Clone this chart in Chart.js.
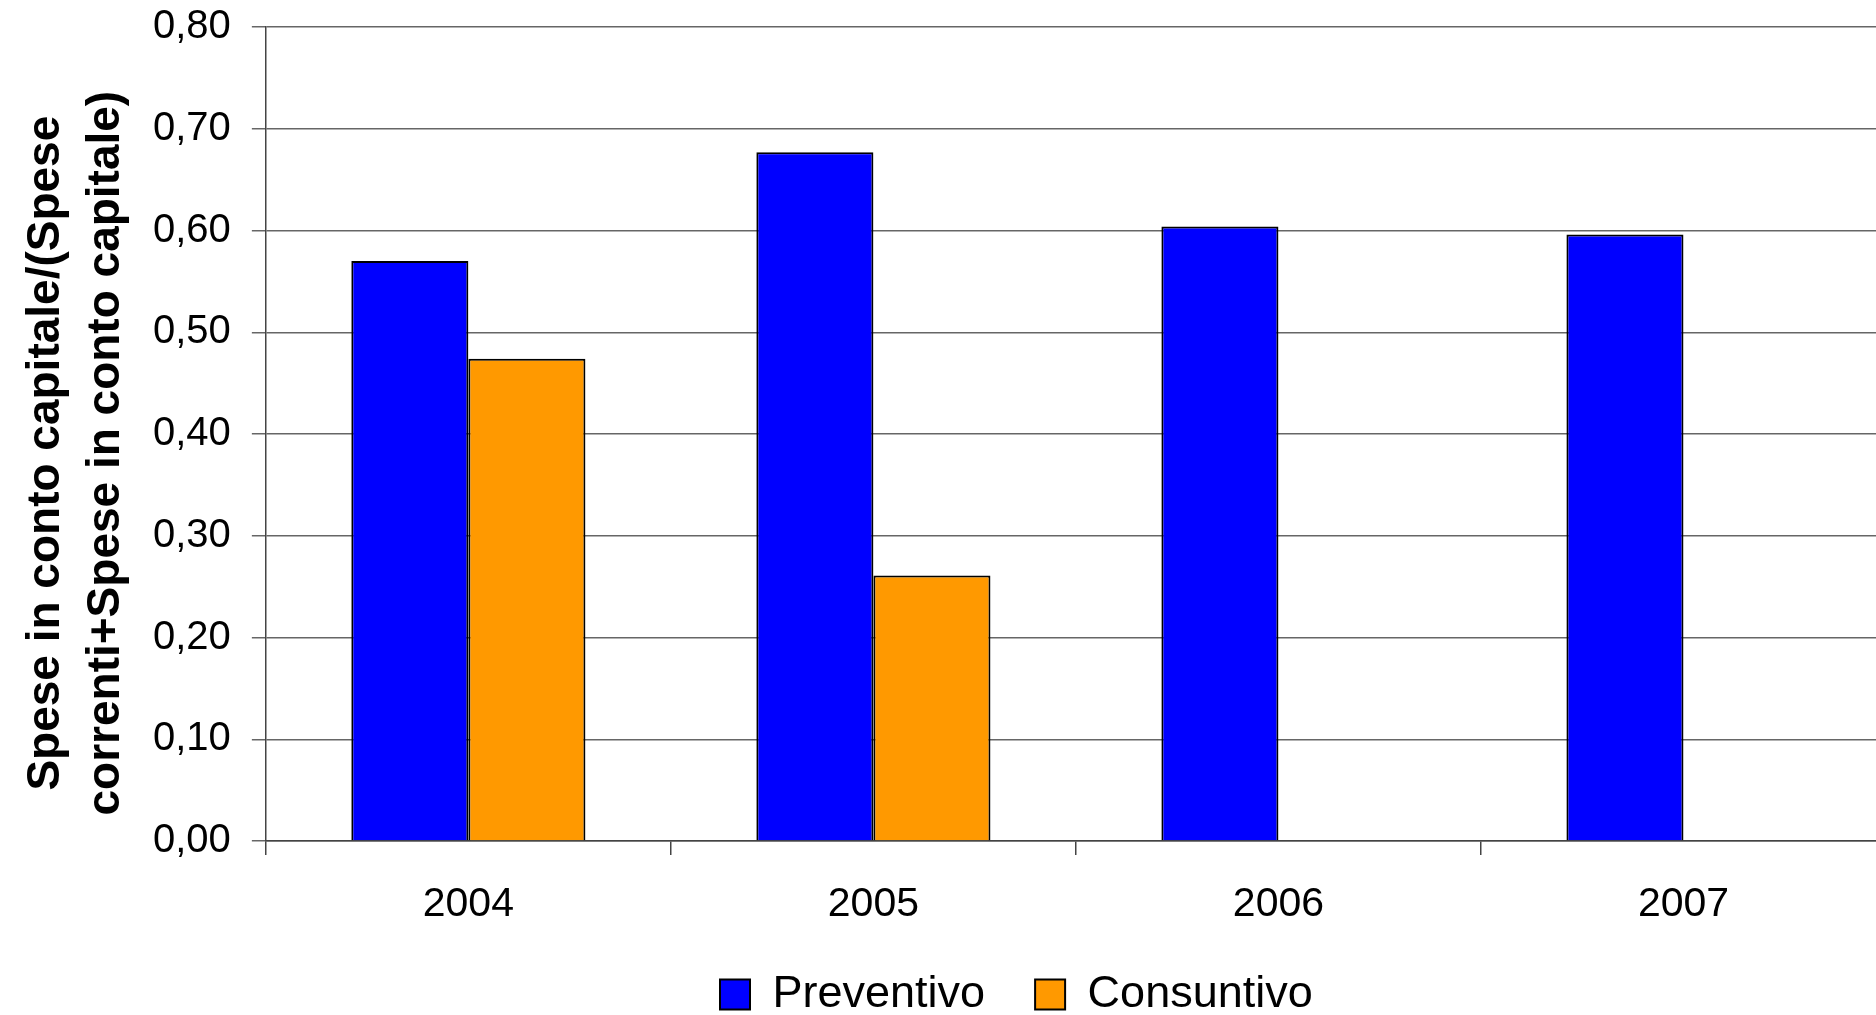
<!DOCTYPE html>
<html>
<head>
<meta charset="utf-8">
<title>Spese in conto capitale</title>
<script src="https://cdn.jsdelivr.net/npm/chart.js@4/dist/chart.umd.min.js"></script>
<style>
    html, body { margin: 0; padding: 0; background: #ffffff; overflow: hidden; }
    /* the original plot runs a little past the right edge of the picture */
    #wrap { width: 1886px; height: 1015px; position: relative; }
</style>
</head>
<body>
<div id="wrap"><canvas id="spese-chart"></canvas></div>
<script>
const years = ["2004", "2005", "2006", "2007"]
const preventivo = [0.570, 0.677, 0.604, 0.596]
const consuntivo = [0.474, 0.261, null, null]
const yTicks = [0, 0.1, 0.2, 0.3, 0.4, 0.5, 0.6, 0.7, 0.8]
const yTitle = ["Spese in conto capitale/(Spese   ", "correnti+Spese in conto capitale)   "]

const FONT = "'Liberation Sans', Arial, sans-serif"

// put the legend where the original one is (below the axis labels, a bit right of centre)
const legendPlace = {
    id: "legendPlace",
    afterLayout(chart) {
        const legend = chart.legend
        const pad = chart.options.plugins.legend.labels.padding
        const dx = 720 - (legend.left + pad)
        const dy = 972 - (legend.top + pad)
        legend.left += dx
        legend.right += dx
        legend.top += dy
        // legend clips to its own box, so let it reach the bottom of the canvas
        legend.bottom = chart.height
        legend.height = legend.bottom - legend.top
    },
}

function drawChart() {
    const canvas = document.getElementById("spese-chart")
    new Chart(canvas, {
        type: "bar",
        data: {
            labels: years,
            datasets: [
                {
                    label: "Preventivo",
                    data: preventivo,
                    backgroundColor: "#0000ff",
                    borderColor: "#000000",
                    borderWidth: 2,
                },
                {
                    label: "Consuntivo",
                    data: consuntivo,
                    backgroundColor: "#ff9900",
                    borderColor: "#000000",
                    borderWidth: 2,
                },
            ],
        },
        options: {
            responsive: true,
            maintainAspectRatio: false,
            animation: false,
            categoryPercentage: 0.578,
            barPercentage: 1.0,
            layout: {
                padding: { top: 27, left: 0, right: 0, bottom: 0 },
            },
            plugins: {
                tooltip: { enabled: false },
                legend: {
                    position: "bottom",
                    align: "start",
                    maxHeight: 60,
                    labels: {
                        boxWidth: 30,
                        boxHeight: 30,
                        padding: 50,
                        color: "#000000",
                        font: { family: FONT, size: 45 },
                    },
                },
            },
            scales: {
                x: {
                    grid: {
                        display: true,
                        drawOnChartArea: false,
                        drawTicks: true,
                        tickLength: 14,
                        color: "#444444",
                        lineWidth: 1.5,
                    },
                    border: { color: "#444444", width: 1.5 },
                    ticks: {
                        color: "#000000",
                        padding: 39,
                        font: { family: FONT, size: 41, lineHeight: "22px" },
                    },
                },
                y: {
                    min: 0,
                    max: 0.8,
                    afterBuildTicks: (axis) => {
                        axis.ticks = yTicks.map((v) => ({ value: v }))
                    },
                    grid: {
                        color: "#666666",
                        lineWidth: 1.5,
                        tickLength: 14,
                    },
                    border: { color: "#444444", width: 1.5 },
                    ticks: {
                        color: "#000000",
                        padding: 21,
                        font: { family: FONT, size: 40, lineHeight: "12px" },
                        callback: (v) => v.toFixed(2).replace(".", ","),
                    },
                    title: {
                        display: true,
                        text: yTitle,
                        color: "#000000",
                        padding: { top: 16, bottom: -4 },
                        font: { family: FONT, size: 46, weight: "bold", lineHeight: "60px" },
                    },
                },
            },
        },
        plugins: [legendPlace],
    })
}

drawChart()
</script>
</body>
</html>
